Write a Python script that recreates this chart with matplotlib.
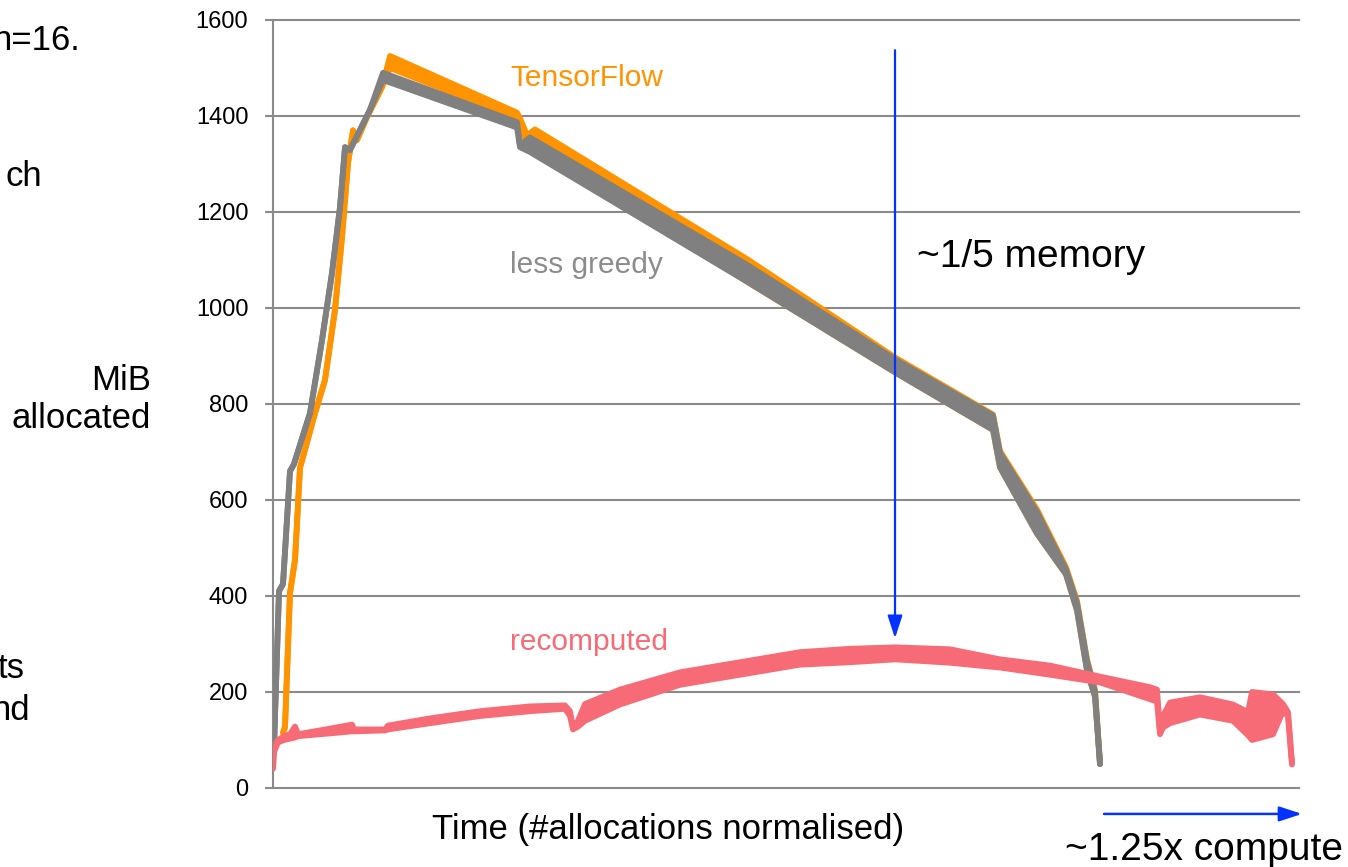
import matplotlib
matplotlib.use('Agg')
import matplotlib.pyplot as plt

plt.rcParams['font.family'] = ['Liberation Sans', 'DejaVu Sans']

# time axis: allocation index (normalised), memory in MiB
# each series is drawn as a band between a lower and an upper edge (sawtooth envelope)
tf_t = [10, 12, 17, 22, 27, 42, 52, 62, 69, 75, 80, 84, 94, 109, 117, 244, 247, 254, 262,
        474, 622, 720, 727, 764, 793, 804, 814, 822, 827]
tf_lo = [115, 127, 406, 475, 667, 781, 850, 996, 1148, 1302, 1370, 1350, 1398, 1460, 1500, 1395,
         1380, 1345, 1330, 1055, 866, 746, 668, 530, 445, 370, 245, 190, 50]
tf_hi = [115, 127, 406, 475, 667, 781, 850, 996, 1148, 1302, 1370, 1350, 1398, 1460, 1525, 1407,
         1395, 1360, 1372, 1102, 897, 778, 702, 580, 460, 390, 268, 205, 55]

lg_t = [1, 6, 10, 17, 21, 37, 49, 59, 67, 72, 77, 87, 97, 110, 244, 247, 257,
        474, 622, 720, 727, 764, 793, 804, 814, 822, 827]
lg_lo = [85, 410, 425, 660, 675, 781, 933, 1073, 1210, 1335, 1329, 1371, 1413, 1475, 1376, 1335,
         1325, 1055, 866, 746, 668, 530, 445, 370, 245, 190, 50]
lg_hi = [85, 410, 425, 660, 675, 781, 933, 1073, 1210, 1335, 1329, 1371, 1413, 1490, 1387, 1340,
         1355, 1090, 893, 776, 698, 575, 455, 385, 265, 200, 50]

rc_t = [0, 1, 5, 11, 17, 22, 25, 47, 79, 81, 112, 115, 157, 207, 257, 292, 297, 300, 305, 312,
        347, 407, 467, 527, 577, 622, 677, 727, 777, 827, 877, 884, 887, 890, 897, 927, 960, 975,
        979, 1000, 1010, 1015, 1017, 1019]
rc_lo = [40, 75, 95, 100, 103, 105, 108, 112, 118, 118, 120, 122, 135, 150, 160, 165, 150, 122,
         128, 140, 174, 215, 236, 257, 262, 268, 261, 251, 236, 220, 185, 180, 112, 126, 135, 153,
         140, 110, 100, 112, 160, 150, 99, 49]
rc_hi = [45, 85, 100, 108, 112, 128, 112, 120, 132, 122, 122, 130, 145, 160, 170, 172, 160, 126,
         140, 175, 205, 241, 262, 283, 290, 293, 289, 268, 255, 232, 210, 205, 118, 150, 178, 189,
         174, 158, 200, 195, 175, 158, 105, 52]

y_ticks = [0, 200, 400, 600, 800, 1000, 1200, 1400, 1600]

ORANGE = '#ff9300'
GREY = '#808080'
PINK = '#f66b75'
BLUE = '#0433ff'
GRID = '#8a8a8a'

W, H = 1348, 867
fig = plt.figure(figsize=(W / 100, H / 100), dpi=100)
ax = fig.add_axes([273 / W, 1 - 788 / H, 1026 / W, 768 / H])


def band(t, lo, hi, color, z):
    ax.fill_between(t, lo, hi, color=color, lw=0, zorder=z)
    for edge in (lo, hi):
        ax.plot(t, edge, color=color, lw=4.2, solid_joinstyle='round',
                solid_capstyle='round', zorder=z)


band(tf_t, tf_lo, tf_hi, ORANGE, 2)
band(lg_t, lg_lo, lg_hi, GREY, 3)
band(rc_t, rc_lo, rc_hi, PINK, 4)

ax.set_xlim(0, 1026)
ax.set_ylim(0, 1600)
ax.set_yticks(y_ticks)
ax.set_xticks([])
ax.tick_params(axis='y', direction='out', length=5.8, width=1.5, color=GRID,
               pad=12, labelsize=17)
ax.grid(axis='y', color=GRID, lw=1.5, zorder=1)
ax.set_axisbelow(True)
for gl in ax.get_ygridlines():
    gl.set_clip_on(False)
for s in ['top', 'right', 'bottom']:
    ax.spines[s].set_visible(False)
ax.spines['left'].set_color(GRID)
ax.spines['left'].set_linewidth(1.5)

# series labels
ax.text(237, 1479, 'TensorFlow', color=ORANGE, fontsize=21.5, va='center', ha='left')
ax.text(237, 1089, 'less greedy', color='#8c8c8c', fontsize=21.5, va='center', ha='left')
ax.text(237, 304, 'recomputed', color=PINK, fontsize=21.5, va='center', ha='left')
ax.text(644, 1106, '~1/5 memory', color='black', fontsize=28, va='center', ha='left')

# blue arrows
arrow_style = '-|>,head_length=0.55,head_width=0.18'
ax.annotate('', xy=(622, 312), xytext=(622, 1537),
            arrowprops=dict(arrowstyle=arrow_style, color=BLUE, lw=1.6,
                            mutation_scale=25, shrinkA=0, shrinkB=0), zorder=6)
ax.annotate('', xy=(1029, -54), xytext=(831, -54), annotation_clip=False,
            arrowprops=dict(arrowstyle=arrow_style, color=BLUE, lw=1.8,
                            mutation_scale=25, shrinkA=0, shrinkB=0))

# text around the plot (pixel positions -> figure fraction)
def ftext(x, y, s, size, ha='left'):
    fig.text(x / W, 1 - y / H, s, fontsize=size, ha=ha, va='center', color='black')


ftext(1065, 850, '~1.25x compute', 28)
ftext(432, 830, 'Time (#allocations normalised)', 25)
ftext(151, 380, 'MiB', 25, ha='right')
ftext(151, 419, 'allocated', 25, ha='right')
# slide text cut off by the left edge of the crop
ftext(80, 40, 'n=16.', 25, ha='right')
ftext(42, 177, 'ch', 25, ha='right')
ftext(25, 668, 'ts', 25, ha='right')
ftext(30, 710, 'nd', 25, ha='right')

fig.savefig('out.png', dpi=100)
